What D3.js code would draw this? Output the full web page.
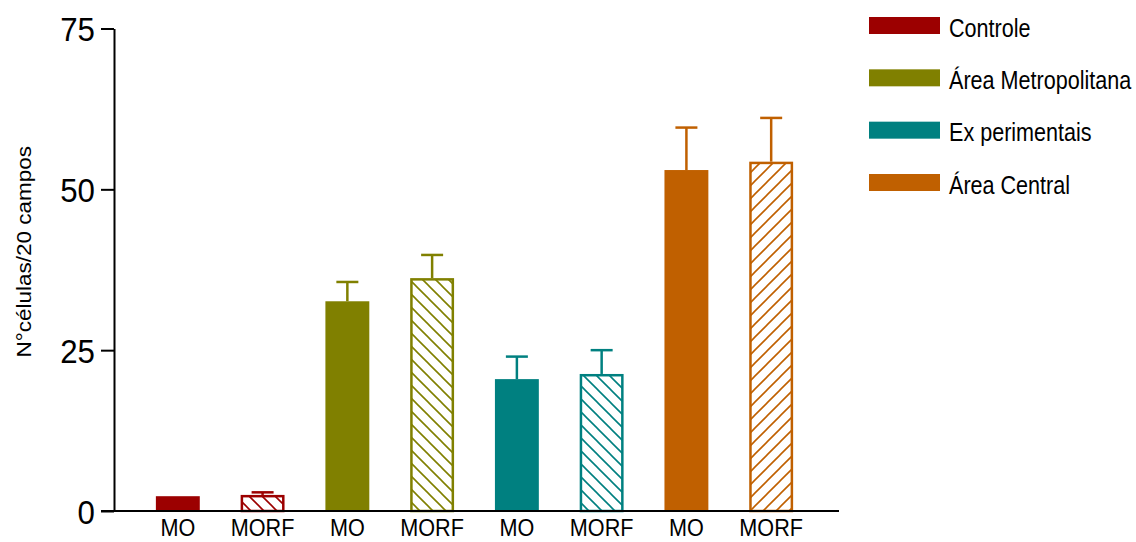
<!DOCTYPE html>
<html>
<head>
<meta charset="utf-8">
<script src="https://cdn.jsdelivr.net/npm/d3@7"></script>
<style>
  html, body { margin: 0; padding: 0; background: #ffffff; }
  svg { display: block; font-family: "Liberation Sans", Arial, Helvetica, sans-serif; }
</style>
</head>
<body>
<svg id="chart" width="1136" height="542"></svg>
<script>
// Cell counts per 20 fields, by sample group and staining method (mean ± SEM)
const groups = ["Controle", "Área Metropolitana", "Ex perimentais", "Área Central"];
const treatments = ["MO", "MORF"];
const meanMO   = [2.3, 32.6, 20.5, 53.0];
const meanMORF = [2.5, 36.2, 21.3, 54.3];
const semMO    = [0.0, 3.0, 3.5, 6.6];
const semMORF  = [0.4, 3.6, 3.7, 6.8];
const yTicks = [0, 25, 50, 75];
const yTitle = "N°células/20 campos";

// group palette and hatch direction for the MORF bars
const palette = ["#9c0000", "#808000", "#008080", "#c06000"];
const hatchDir = ["back", "back", "back", "fwd"];

const rows = [];
groups.forEach((g, i) => {
  rows.push({ key: g + "|MO", gi: i, treatment: treatments[0], mean: meanMO[i], sem: semMO[i] });
  rows.push({ key: g + "|MORF", gi: i, treatment: treatments[1], mean: meanMORF[i], sem: semMORF[i] });
});

const svg = d3.select("#chart");

const x = d3.scaleBand()
  .domain(rows.map(d => d.key))
  .range([114, 835])
  .paddingInner(0.482)
  .paddingOuter(0.494);

const y = d3.scaleLinear().domain([0, 75]).range([511, 28.5]);

// hatch fills
const defs = svg.append("defs");
palette.forEach((c, i) => {
  const p = defs.append("pattern")
    .attr("id", "hatch-" + i)
    .attr("patternUnits", "userSpaceOnUse")
    .attr("width", 13).attr("height", 13);
  p.append("rect").attr("width", 13).attr("height", 13).attr("fill", "#ffffff");
  p.append("path")
    .attr("d", hatchDir[i] === "back"
      ? "M0,0L13,13M-3,10L3,16M10,-3L16,3"
      : "M0,13L13,0M-3,3L3,-3M10,16L16,10")
    .attr("stroke", c).attr("stroke-width", 1.6).attr("fill", "none");
});

// bars
const bars = svg.append("g");
bars.selectAll("rect").data(rows).join("rect")
  .attr("x", d => x(d.key) + (d.treatment === "MORF" ? 1.25 : 0))
  .attr("y", d => y(d.mean) + (d.treatment === "MORF" ? 1.25 : 0))
  .attr("width", d => x.bandwidth() - (d.treatment === "MORF" ? 2.5 : 0))
  .attr("height", d => y(0) - y(d.mean) - (d.treatment === "MORF" ? 1.25 : 0))
  .attr("fill", d => d.treatment === "MO" ? palette[d.gi] : "url(#hatch-" + d.gi + ")")
  .attr("stroke", d => d.treatment === "MO" ? "none" : palette[d.gi])
  .attr("stroke-width", 2.5);

// error bars (upper only)
const err = svg.append("g").selectAll("g").data(rows.filter(d => d.sem > 0)).join("g")
  .attr("stroke", d => palette[d.gi]).attr("stroke-width", 2.5);
err.append("line")
  .attr("x1", d => x(d.key) + x.bandwidth() / 2)
  .attr("x2", d => x(d.key) + x.bandwidth() / 2)
  .attr("y1", d => y(d.mean))
  .attr("y2", d => y(d.mean + d.sem));
err.append("line")
  .attr("x1", d => x(d.key) + x.bandwidth() / 2 - 11)
  .attr("x2", d => x(d.key) + x.bandwidth() / 2 + 11)
  .attr("y1", d => y(d.mean + d.sem))
  .attr("y2", d => y(d.mean + d.sem));

// x axis
const xAxis = svg.append("g")
  .attr("transform", `translate(0,${y(0)})`)
  .call(d3.axisBottom(x).tickSize(0).tickFormat(k => k.split("|")[1]));
xAxis.select(".domain").remove();
xAxis.selectAll("text")
  .attr("fill", "#000")
  .attr("font-size", 23)
  .attr("dy", null)
  .attr("y", 0)
  .attr("transform", "translate(0,25) scale(0.94,1)")
  .attr("font-family", "Liberation Sans, Arial, sans-serif");

svg.append("line")
  .attr("x1", 101).attr("x2", 839)
  .attr("y1", y(0)).attr("y2", y(0))
  .attr("stroke", "#000").attr("stroke-width", 2);

// y axis
const yAxis = svg.append("g")
  .attr("transform", "translate(114,0)")
  .call(d3.axisLeft(y).tickValues(yTicks).tickSize(13).tickSizeOuter(0).tickPadding(6));
yAxis.select(".domain").attr("stroke-width", 2);
yAxis.selectAll(".tick line").attr("stroke-width", 2);
yAxis.selectAll(".tick text")
  .attr("fill", "#000")
  .attr("font-size", 34)
  .attr("font-family", "Liberation Sans, Arial, sans-serif")
  .attr("x", -19 / 0.92)
  .attr("dy", "0.36em")
  .attr("transform", "scale(0.92,1)");

svg.append("text")
  .attr("transform", `translate(31,${(y(0) + y(75)) / 2 - 18}) rotate(-90) scale(1,0.9)`)
  .attr("text-anchor", "middle")
  .attr("font-size", 22.5)
  .attr("fill", "#000")
  .text(yTitle);

// legend
const ly = d3.scalePoint().domain(groups).range([25.5, 182.5]);
const leg = svg.append("g").selectAll("g").data(groups).join("g")
  .attr("transform", d => `translate(869,${ly(d)})`);
leg.append("rect")
  .attr("x", 0).attr("y", -8.5).attr("width", 71).attr("height", 17)
  .attr("fill", (d, i) => palette[i]);
leg.append("text")
  .attr("transform", "translate(80,11) scale(0.83,1)")
  .attr("font-size", 26)
  .attr("fill", "#000")
  .text(d => d);
</script>
</body>
</html>
